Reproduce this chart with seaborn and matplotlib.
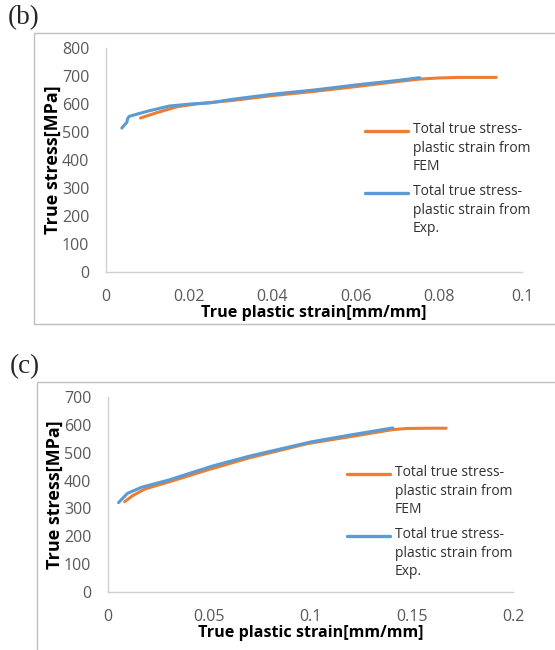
import matplotlib
import matplotlib.pyplot as plt
import pandas as pd
import seaborn as sns
from matplotlib.legend_handler import HandlerLine2D
from matplotlib.lines import Line2D
from matplotlib.patches import Rectangle

matplotlib.use("Agg")

# panel (b)
b_fem_strain = [0.0083, 0.012, 0.017, 0.022, 0.03, 0.04, 0.05, 0.06, 0.07, 0.0754, 0.08, 0.085, 0.0938]
b_fem_stress = [550, 568, 590, 601, 612, 630, 645, 662, 680, 689, 693, 695, 695]
b_exp_strain = [0.0038, 0.0045, 0.0050, 0.0052, 0.0056, 0.0075, 0.0102, 0.0153, 0.0204, 0.025, 0.03, 0.04, 0.05, 0.06, 0.07, 0.0754]
b_exp_stress = [514, 526, 534, 548, 556, 564, 575, 593, 600, 604, 616, 635, 650, 668, 684, 694]

# panel (c)
c_fem_strain = [0.0082, 0.012, 0.0183, 0.03, 0.05, 0.07, 0.0987, 0.12, 0.1406, 0.1476, 0.16, 0.167]
c_fem_stress = [324, 345, 370, 395, 440, 482, 533, 558, 583, 587, 588, 588]
c_exp_strain = [0.0052, 0.0096, 0.0166, 0.03, 0.0515, 0.07, 0.1004, 0.12, 0.1406]
c_exp_stress = [321, 354, 376, 402, 452, 488, 539, 564, 589]

fem_label = "Total true stress-\nplastic strain from\nFEM"
exp_label = "Total true stress-\nplastic strain from\nExp."

panels = [
    ("(b)", b_fem_strain, b_fem_stress, b_exp_strain, b_exp_stress, 0.1, 0.02, 800, 100),
    ("(c)", c_fem_strain, c_fem_stress, c_exp_strain, c_exp_stress, 0.2, 0.05, 700, 100),
]

LEG_FS = 10
LINESP = 1.33


class TopLineHandler(HandlerLine2D):
    # put the legend line next to the first text row, like Excel does
    def create_artists(self, legend, orig_handle, xdescent, ydescent, width, height, fontsize, trans):
        artists = super().create_artists(legend, orig_handle, xdescent, ydescent, width, height, fontsize, trans)
        for a in artists:
            a.set_ydata([y + LINESP * fontsize * 0.98 for y in a.get_ydata()])
        return artists


sns.set_theme(style="white")
plt.rcParams["font.family"] = ["Open Sans", "DejaVu Sans"]

fig = plt.figure(figsize=(5.55, 6.5), dpi=100)
W, H = 555, 650
axes_px = [(106, 48, 522, 272), (108, 397, 513, 592)]
frames_px = [(34, 33, 600, 324), (37, 382, 600, 700)]
tags_px = [(8, 18), (10, 367)]
legend_px = [(365, 122), (347, 465)]

for (tag, fs, fy, es, ey, xmax, xstep, ymax, ystep), (l, t, r, b), (fl, ft, fr, fb), (tx, ty), (lx, ly) in zip(
    panels, axes_px, frames_px, tags_px, legend_px
):
    fig.patches.append(
        Rectangle((fl / W, 1 - fb / H), (fr - fl) / W, (fb - ft) / H,
                  transform=fig.transFigure, fill=False, edgecolor="#bfbfbf", linewidth=1.0)
    )
    fig.text(tx / W, 1 - ty / H, tag, fontsize=19.5, family="Liberation Serif", va="center", ha="left")
    ax = fig.add_axes([l / W, 1 - b / H, (r - l) / W, (b - t) / H])
    df = pd.concat([
        pd.DataFrame({"strain": fs, "stress": fy, "series": fem_label}),
        pd.DataFrame({"strain": es, "stress": ey, "series": exp_label}),
    ])
    sns.lineplot(data=df, x="strain", y="stress", hue="series", sort=False,
                 palette=["#ED7D31", "#5B9BD5"], linewidth=2.2, ax=ax)
    ax.set_xlim(0, xmax)
    ax.set_ylim(0, ymax)
    xt = [round(i * xstep, 3) for i in range(int(round(xmax / xstep)) + 1)]
    ax.set_xticks(xt)
    ax.set_xticklabels([f"{v:g}" for v in xt])
    ax.set_yticks(range(0, ymax + 1, ystep))
    ax.tick_params(axis="y", colors="#595959", labelsize=11.5, length=0, pad=12)
    ax.tick_params(axis="x", colors="#595959", labelsize=11.5, length=0, pad=12)
    for s in ("top", "right"):
        ax.spines[s].set_visible(False)
    for s in ("left", "bottom"):
        ax.spines[s].set_color("#d0d0d0")
        ax.spines[s].set_linewidth(1.0)
    ax.set_xlabel("True plastic strain[mm/mm]", fontsize=11.6, fontweight="bold", color="black", labelpad=0)
    ax.set_ylabel("True stress[MPa]", fontsize=13, fontweight="bold", color="black", labelpad=0)
    leg = ax.legend(loc="upper left", bbox_to_anchor=(lx / W, 1 - ly / H), bbox_transform=fig.transFigure,
                    frameon=False, borderaxespad=0, borderpad=0,
                    fontsize=LEG_FS, handlelength=3.1, handletextpad=0.36, labelspacing=0.7,
                    labelcolor="#303030", handler_map={Line2D: TopLineHandler()})
    for text in leg.get_texts():
        text.set_linespacing(LINESP)
    for line in leg.get_lines():
        line.set_linewidth(2.4)

fig.savefig("out.png", dpi=100)
